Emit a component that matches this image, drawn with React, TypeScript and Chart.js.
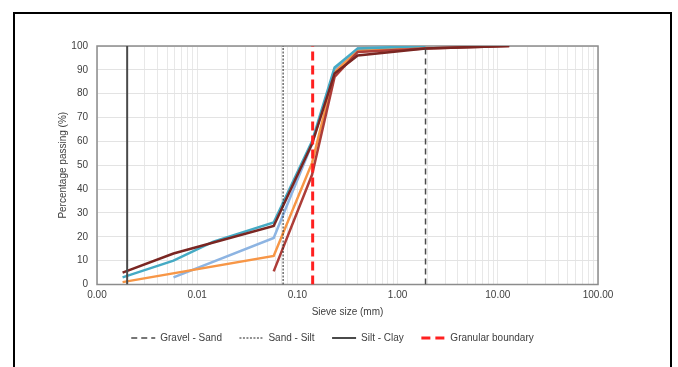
import React, { useEffect, useRef } from 'react';
import { Chart, registerables } from 'chart.js';

Chart.register(...registerables);

const FONT = '"Liberation Sans", Arial, Helvetica, sans-serif';

// Sieve size (mm) and percentage passing for each sample
const tealSize = [0.0018, 0.0058, 0.0145, 0.058, 0.14, 0.235, 0.4, 1.9];
const tealPass = [3, 10, 18, 26, 60, 91, 99, 100];
const brownSize = [0.0018, 0.0058, 0.058, 0.14, 0.235, 0.4, 1.9, 13];
const brownPass = [5, 13, 24.5, 59, 88.5, 96, 99, 100];
const lightBlueSize = [0.0058, 0.058, 0.14, 0.235, 0.4, 1.9];
const lightBluePass = [3, 19.5, 59, 90, 99, 100];
const orangeSize = [0.0018, 0.058, 0.14, 0.235, 0.4, 1.9];
const orangePass = [1, 12, 51, 89, 98, 100];
const redSize = [0.058, 0.14, 0.235, 0.4, 1.9, 13];
const redPass = [5.5, 46, 87, 97.5, 99, 100];

// Boundary lines
const boundaryNames = ['Gravel - Sand', 'Sand - Silt', 'Silt - Clay', 'Granular boundary'];
const boundarySizes = [1.9, 0.072, 0.002, 0.142];
const boundaryRange = [0, 100];

// Axis ticks
const xMajorTicks = [0.001, 0.01, 0.1, 1, 10, 100];
const xTickLabels = ['0.00', '0.01', '0.10', '1.00', '10.00', '100.00'];
const xMinorMultipliers = [2, 3, 4, 5, 6, 7, 8, 9];
const yMin = 0;
const yMax = 100;
const yStep = 10;

const pts = (xs: number[], ys: number[]) => xs.map((x, i) => ({ x, y: ys[i] }));
const vline = (x: number) => boundaryRange.map((y) => ({ x, y }));

const framePlugin = {
  id: 'plotFrame',
  beforeDatasetsDraw(chart: any) {
    const { ctx, chartArea: a } = chart;
    ctx.save();
    ctx.strokeStyle = '#8c8c8c';
    ctx.lineWidth = 1.5;
    ctx.strokeRect(a.left, a.top, a.right - a.left, a.bottom - a.top);
    ctx.restore();
  },
};

export default function App() {
  const ref = useRef<HTMLCanvasElement | null>(null);

  useEffect(() => {
    if (!ref.current) return;
    Chart.defaults.font.family = FONT;
    Chart.defaults.color = '#404040';

    const lineStyles = [
      { color: '#4a4a4a', width: 1.5, dash: [6, 4] },
      { color: '#222222', width: 1, dash: [2, 1.5] },
      { color: '#4a4a4a', width: 2, dash: [] as number[] },
      { color: '#ff2020', width: 3, dash: [9, 5] },
    ];

    const boundarySets = boundaryNames.map((name, i) => ({
      label: name,
      data: vline(boundarySizes[i]),
      borderColor: lineStyles[i].color,
      backgroundColor: lineStyles[i].color,
      borderWidth: lineStyles[i].width,
      borderDash: lineStyles[i].dash,
      showLine: true,
      pointRadius: 0,
      pointHoverRadius: 0,
    }));

    const series = [
      { label: 'S5', xs: brownSize, ys: brownPass, color: '#7a2622' },
      { label: 'S4', xs: redSize, ys: redPass, color: '#ad3d38' },
      { label: 'S1', xs: tealSize, ys: tealPass, color: '#45aac4' },
      { label: 'S3', xs: orangeSize, ys: orangePass, color: '#f79646' },
      { label: 'S2', xs: lightBlueSize, ys: lightBluePass, color: '#8db4e2' },
    ].map((s) => ({
      label: s.label,
      data: pts(s.xs, s.ys),
      borderColor: s.color,
      backgroundColor: s.color,
      borderWidth: 2.5,
      showLine: true,
      pointRadius: 0,
      pointHoverRadius: 0,
    }));

    const allXTicks: number[] = [];
    xMajorTicks.forEach((m, i) => {
      allXTicks.push(m);
      if (i < xMajorTicks.length - 1) xMinorMultipliers.forEach((k) => allXTicks.push(m * k));
    });

    const chart = new Chart(ref.current, {
      type: 'scatter',
      data: { datasets: [...boundarySets, ...series] as any },
      plugins: [framePlugin],
      options: {
        responsive: false,
        animation: false,
        devicePixelRatio: 1,
        layout: { padding: { left: 67, right: 80, top: 46, bottom: 14 } },
        plugins: {
          tooltip: { enabled: false },
          legend: {
            position: 'bottom',
            labels: {
              generateLabels: (c: any) =>
                c.data.datasets.map((ds: any, i: number) => ({
                  text: ds.label,
                  datasetIndex: i,
                  fillStyle: ds.borderColor,
                  strokeStyle: ds.borderColor,
                  lineWidth: ds.borderWidth,
                  lineDash: ds.borderDash || [],
                  lineCap: 'butt',
                  pointStyle: 'line',
                  hidden: false,
                  fontColor: '#404040',
                })),
              filter: (item: any) => item.datasetIndex < boundaryNames.length,
              usePointStyle: true,
              pointStyle: 'line',
              pointStyleWidth: 24,
              boxHeight: 10,
              padding: 17.5,
              font: { size: 10, family: FONT },
              color: '#404040',
            },
          },
        },
        scales: {
          x: {
            type: 'logarithmic',
            min: xMajorTicks[0],
            max: xMajorTicks[xMajorTicks.length - 1],
            afterBuildTicks: (scale: any) => {
              scale.ticks = allXTicks.map((v) => ({ value: v, major: xMajorTicks.includes(v) }));
            },
            afterFit: (scale: any) => {
              scale.height = 31;
            },
            ticks: {
              autoSkip: false,
              maxRotation: 0,
              padding: 5,
              font: { size: 10, family: FONT },
              color: '#404040',
              callback: (value: any) => {
                const i = xMajorTicks.findIndex((t) => Math.abs(t - Number(value)) / t < 1e-6);
                return i >= 0 ? xTickLabels[i] : '';
              },
            },
            grid: { color: '#e8e8e8', lineWidth: 1, drawTicks: false },
            border: { display: false },
            title: {
              display: true,
              text: 'Sieve size (mm)',
              font: { size: 10, family: FONT },
              color: '#404040',
              padding: { top: 0, bottom: -3 },
            },
          },
          y: {
            min: yMin,
            max: yMax,
            afterFit: (scale: any) => {
              scale.width = 30;
            },
            ticks: {
              stepSize: yStep,
              padding: 9,
              font: { size: 10, family: FONT },
              color: '#404040',
            },
            grid: { color: '#e3e3e3', lineWidth: 1, drawTicks: false },
            border: { display: false },
            title: {
              display: true,
              text: 'Percentage passing (%)',
              font: { size: 10, family: FONT },
              color: '#404040',
              padding: { top: -10, bottom: 0 },
            },
          },
        },
      } as any,
    });
    return () => chart.destroy();
  }, []);

  return (
    <div style={{ position: 'absolute', left: 0, top: 0, width: 678, height: 367, background: '#fff' }}>
      <canvas ref={ref} width={678} height={367} style={{ position: 'absolute', left: 0, top: 0, width: 678, height: 367 }} />
      <div
        style={{
          position: 'absolute',
          left: 13,
          top: 12,
          width: 659,
          height: 355,
          boxSizing: 'border-box',
          borderTop: '2px solid #000',
          borderLeft: '2px solid #000',
          borderRight: '2px solid #000',
          pointerEvents: 'none',
        }}
      />
    </div>
  );
}
